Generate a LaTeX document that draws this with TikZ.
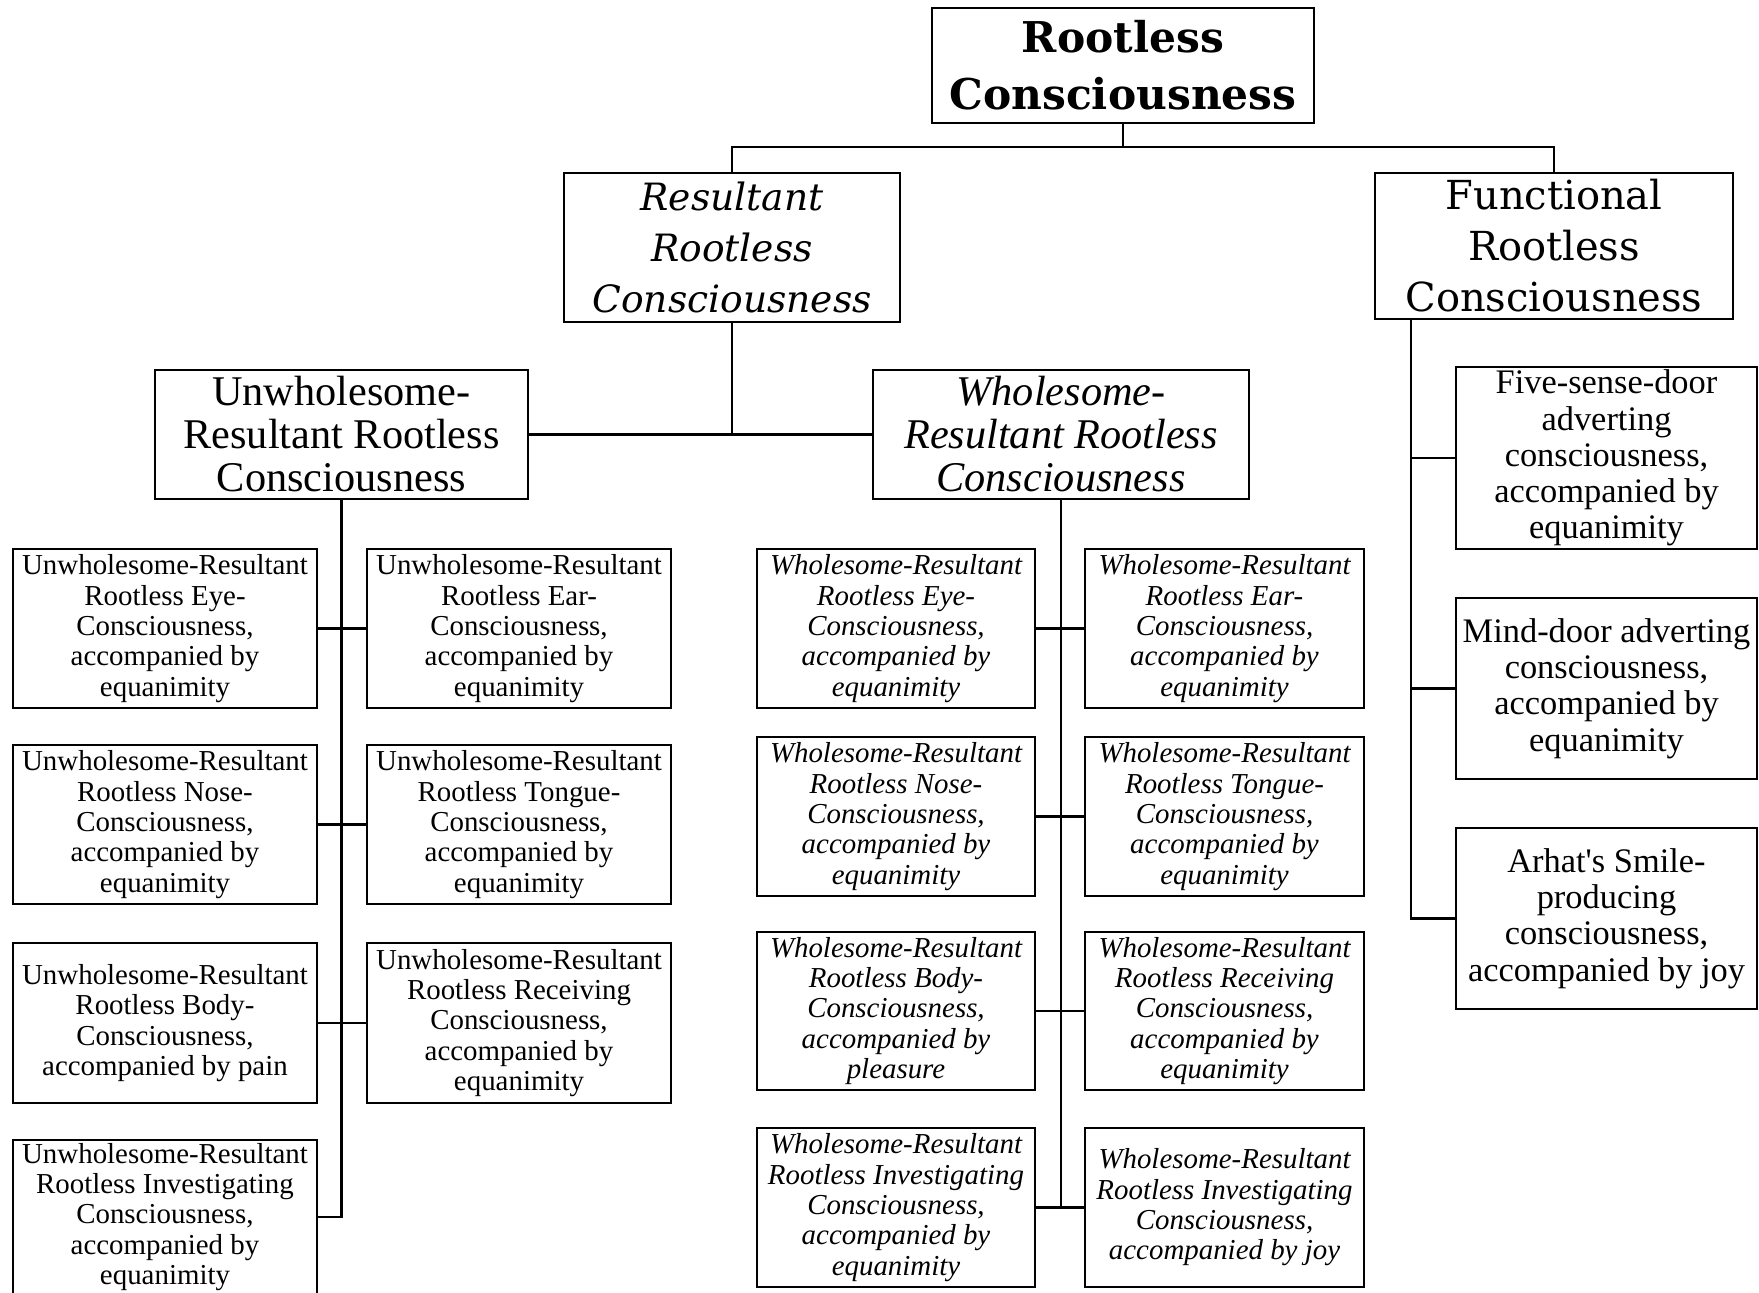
\documentclass[tikz,border=0pt]{standalone}
\usepackage{fontspec}
\setmainfont{Liberation Serif}
\newfontfamily\headfont{DejaVu Serif}
% box given by its two corners (in px, y downwards)
\newcommand\bx[7]{%
  \pgfmathsetmacro\bxw{(#4-#2)*0.5}%
  \pgfmathsetmacro\bxh{(#5-#3)*0.5}%
  \node[#6, minimum width=\bxw pt, minimum height=\bxh pt] (#1) at ({(#2+#4)/2},{(#3+#5)/2}) {#7};}
\begin{document}
\begin{tikzpicture}[x=0.5pt,y=-0.5pt,
  box/.style={draw, line width=1.2pt, inner sep=0pt, outer sep=0pt, align=center},
  rootbox/.style={box, font=\headfont\bfseries\fontsize{21.2}{28.5}\selectfont},
  resbox/.style={box, font=\headfont\itshape\fontsize{18.8}{25.5}\selectfont},
  funbox/.style={box, font=\headfont\fontsize{20}{25.5}\selectfont},
  midbox/.style={box, font=\fontsize{21.15}{21.5}\selectfont},
  midboxit/.style={box, font=\itshape\fontsize{21.15}{21.5}\selectfont},
  leaf/.style={box, font=\fontsize{14.45}{15.15}\selectfont},
  leafit/.style={box, font=\itshape\fontsize{14.45}{15.15}\selectfont},
  fleaf/.style={box, font=\fontsize{17.2}{18.1}\selectfont},
  link/.style={line width=1.3pt}]
\useasboundingbox (0,0) rectangle (1759,1293);
\clip (0,0) rectangle (1759,1293);

% top levels
\bx{root}{932}{8}{1314}{123}{rootbox}{Rootless\\Consciousness}
\bx{res}{564}{173}{900}{322}{resbox}{Resultant\\Rootless\\Consciousness}
\bx{fun}{1375}{173}{1733}{319}{funbox}{Functional\\Rootless\\Consciousness}
\bx{uw}{155}{370}{528}{499}{midbox}{Unwholesome-\\Resultant Rootless\\Consciousness}
\bx{wh}{873}{370}{1249}{499}{midboxit}{Wholesome-\\Resultant Rootless\\Consciousness}

% unwholesome-resultant leaves
\bx{u1}{13}{549}{317}{708}{leaf}{Unwholesome-Resultant\\Rootless Eye-\\Consciousness,\\accompanied by\\equanimity}
\bx{u2}{367}{549}{671}{708}{leaf}{Unwholesome-Resultant\\Rootless Ear-\\Consciousness,\\accompanied by\\equanimity}
\bx{u3}{13}{745}{317}{904}{leaf}{Unwholesome-Resultant\\Rootless Nose-\\Consciousness,\\accompanied by\\equanimity}
\bx{u4}{367}{745}{671}{904}{leaf}{Unwholesome-Resultant\\Rootless Tongue-\\Consciousness,\\accompanied by\\equanimity}
\bx{u5}{13}{943}{317}{1103}{leaf}{Unwholesome-Resultant\\Rootless Body-\\Consciousness,\\accompanied by pain}
\bx{u6}{367}{943}{671}{1103}{leaf}{Unwholesome-Resultant\\Rootless Receiving\\Consciousness,\\accompanied by\\equanimity}
\bx{u7}{13}{1140}{317}{1294}{leaf}{Unwholesome-Resultant\\Rootless Investigating\\Consciousness,\\accompanied by\\equanimity}

% wholesome-resultant leaves
\bx{w1}{757}{549}{1035}{708}{leafit}{Wholesome-Resultant\\Rootless Eye-\\Consciousness,\\accompanied by\\equanimity}
\bx{w2}{1085}{549}{1364}{708}{leafit}{Wholesome-Resultant\\Rootless Ear-\\Consciousness,\\accompanied by\\equanimity}
\bx{w3}{757}{737}{1035}{896}{leafit}{Wholesome-Resultant\\Rootless Nose-\\Consciousness,\\accompanied by\\equanimity}
\bx{w4}{1085}{737}{1364}{896}{leafit}{Wholesome-Resultant\\Rootless Tongue-\\Consciousness,\\accompanied by\\equanimity}
\bx{w5}{757}{932}{1035}{1090}{leafit}{Wholesome-Resultant\\Rootless Body-\\Consciousness,\\accompanied by\\pleasure}
\bx{w6}{1085}{932}{1364}{1090}{leafit}{Wholesome-Resultant\\Rootless Receiving\\Consciousness,\\accompanied by\\equanimity}
\bx{w7}{757}{1128}{1035}{1287}{leafit}{Wholesome-Resultant\\Rootless Investigating\\Consciousness,\\accompanied by\\equanimity}
\bx{w8}{1085}{1128}{1364}{1287}{leafit}{Wholesome-Resultant\\Rootless Investigating\\Consciousness,\\accompanied by joy}

% functional leaves
\bx{f1}{1456}{367}{1757}{549}{fleaf}{Five-sense-door\\adverting\\consciousness,\\accompanied by\\equanimity}
\bx{f2}{1456}{598}{1757}{779}{fleaf}{Mind-door adverting\\consciousness,\\accompanied by\\equanimity}
\bx{f3}{1456}{828}{1757}{1009}{fleaf}{Arhat\textquotesingle s Smile-\\producing\\consciousness,\\accompanied by joy}

% connectors
\draw[link] (root.south) -- ++(0,24) coordinate (bar) -| (res.north);
\draw[link] (bar) -| (fun.north);
\draw[link] (uw.east) -- (wh.west);
\draw[link] (res.south) -- (res.south |- uw.east);

\draw[link] (uw.south) |- (u7.east);
\draw[link] (u1.east) -- (u2.west);
\draw[link] (u3.east) -- (u4.west);
\draw[link] (u5.east) -- (u6.west);

\draw[link] (wh.south) -- (wh.south |- w7.east);
\draw[link] (w1.east) -- (w2.west);
\draw[link] (w3.east) -- (w4.west);
\draw[link] (w5.east) -- (w6.west);
\draw[link] (w7.east) -- (w8.west);

\coordinate (ftop) at ([xshift=18pt]fun.south west);
\draw[link] (ftop) |- (f3.west);
\draw[link] (ftop |- f1.west) -- (f1.west);
\draw[link] (ftop |- f2.west) -- (f2.west);
\end{tikzpicture}
\end{document}
